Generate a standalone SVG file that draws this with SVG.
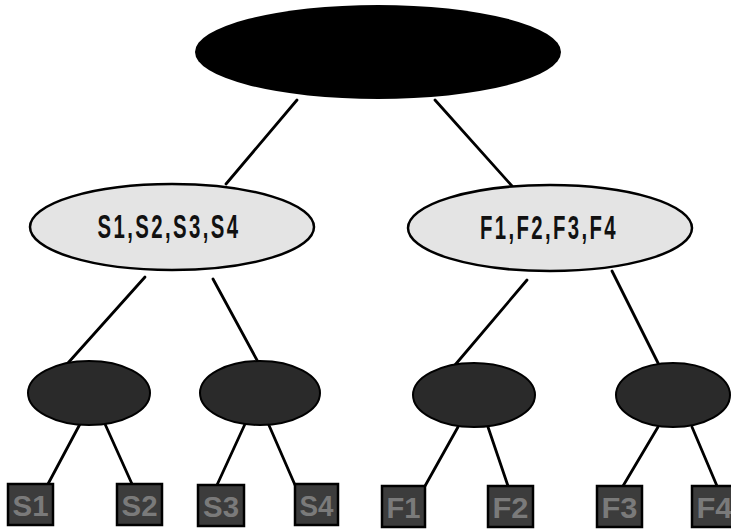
<svg xmlns="http://www.w3.org/2000/svg" width="731" height="529" viewBox="0 0 731 529">
  <style>
    .edge { stroke: #000; stroke-width: 2.8; fill: none; stroke-linecap: round; }
    .root { fill: #000; }
    .set { fill: #e4e4e4; stroke: #000; stroke-width: 2.5; }
    .pair { fill: #2a2a2a; stroke: #000; stroke-width: 2; }
    .leaf { fill: #3c3c3c; stroke: #000; stroke-width: 2.5; }
    .setlabel { font-family: "Liberation Sans", Arial, sans-serif; font-size: 34px; font-weight: bold; letter-spacing: 4px; fill: #111; text-anchor: middle; }
    .leaflabel { font-family: "Liberation Sans", Arial, sans-serif; font-size: 30px; font-weight: bold; fill: #7a7a7a; text-anchor: middle; }
  </style>
  <rect width="731" height="529" fill="#fff"/>

  <!-- connectors -->
  <g id="edges">
    <line class="edge" x1="297" y1="100" x2="226" y2="184"/>
    <line class="edge" x1="435" y1="100" x2="512" y2="186"/>
    <line class="edge" x1="145" y1="277" x2="68" y2="363"/>
    <line class="edge" x1="213" y1="279" x2="258" y2="362"/>
    <line class="edge" x1="527" y1="280" x2="455" y2="365"/>
    <line class="edge" x1="612" y1="271" x2="658" y2="363"/>
    <line class="edge" x1="80" y1="424" x2="48" y2="484"/>
    <line class="edge" x1="105" y1="424" x2="132" y2="484"/>
    <line class="edge" x1="245" y1="424" x2="217" y2="485"/>
    <line class="edge" x1="268" y1="423" x2="295" y2="485"/>
    <line class="edge" x1="458" y1="427" x2="425" y2="486"/>
    <line class="edge" x1="488" y1="427" x2="508" y2="486"/>
    <line class="edge" x1="658" y1="427" x2="623" y2="486"/>
    <line class="edge" x1="692" y1="427" x2="717" y2="486"/>
  </g>

  <!-- root -->
  <g id="root">
    <ellipse class="root" cx="378" cy="52" rx="183" ry="47"/>
  </g>

  <!-- second level -->
  <g id="setS">
    <ellipse class="set" cx="172" cy="227" rx="142" ry="43"/>
    <text class="setlabel" x="169" y="238" textLength="143" lengthAdjust="spacingAndGlyphs">S1,S2,S3,S4</text>
  </g>
  <g id="setF">
    <ellipse class="set" cx="550" cy="228" rx="142" ry="43"/>
    <text class="setlabel" x="549" y="239" textLength="138" lengthAdjust="spacingAndGlyphs">F1,F2,F3,F4</text>
  </g>

  <!-- third level -->
  <g id="pairS12"><ellipse class="pair" cx="89" cy="393" rx="61" ry="32"/></g>
  <g id="pairS34"><ellipse class="pair" cx="260" cy="393" rx="60" ry="32"/></g>
  <g id="pairF12"><ellipse class="pair" cx="474" cy="395" rx="61" ry="32"/></g>
  <g id="pairF34"><ellipse class="pair" cx="673" cy="395" rx="57" ry="32"/></g>

  <!-- leaves -->
  <g id="leafS1"><rect class="leaf" x="8" y="484" width="45" height="41"/><text class="leaflabel" x="30.5" y="516" textLength="36" lengthAdjust="spacingAndGlyphs">S1</text></g>
  <g id="leafS2"><rect class="leaf" x="117" y="484" width="45" height="41"/><text class="leaflabel" x="139.5" y="516" textLength="36" lengthAdjust="spacingAndGlyphs">S2</text></g>
  <g id="leafS3"><rect class="leaf" x="198" y="485" width="46" height="41"/><text class="leaflabel" x="221" y="517" textLength="36" lengthAdjust="spacingAndGlyphs">S3</text></g>
  <g id="leafS4"><rect class="leaf" x="295" y="484" width="43" height="41"/><text class="leaflabel" x="316.5" y="516" textLength="34" lengthAdjust="spacingAndGlyphs">S4</text></g>
  <g id="leafF1"><rect class="leaf" x="382" y="486" width="43" height="41"/><text class="leaflabel" x="403.5" y="518" textLength="34" lengthAdjust="spacingAndGlyphs">F1</text></g>
  <g id="leafF2"><rect class="leaf" x="488" y="486" width="45" height="41"/><text class="leaflabel" x="510.5" y="518" textLength="36" lengthAdjust="spacingAndGlyphs">F2</text></g>
  <g id="leafF3"><rect class="leaf" x="597" y="486" width="45" height="41"/><text class="leaflabel" x="619.5" y="518" textLength="36" lengthAdjust="spacingAndGlyphs">F3</text></g>
  <g id="leafF4"><rect class="leaf" x="692" y="486" width="45" height="41"/><text class="leaflabel" x="714.5" y="518" textLength="36" lengthAdjust="spacingAndGlyphs">F4</text></g>
</svg>
